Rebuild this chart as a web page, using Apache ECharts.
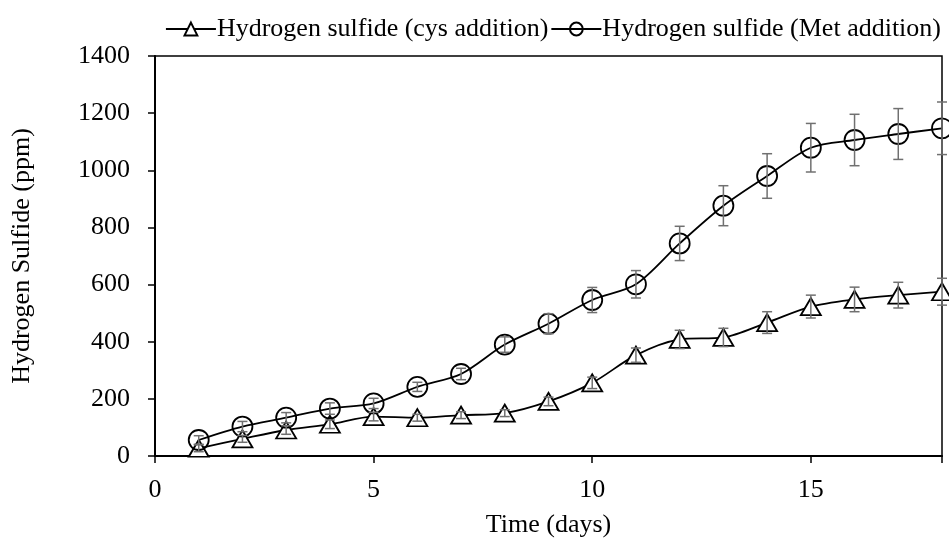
<!DOCTYPE html>
<html>
<head>
<meta charset="utf-8">
<script src="https://cdn.jsdelivr.net/npm/echarts@6/dist/echarts.min.js"></script>
<style>
  html, body { margin: 0; padding: 0; background: #fff; }
  #main { width: 949px; height: 541px; }
</style>
</head>
<body>
<div id="main"></div>
<script>
var days = [1, 2, 3, 4, 5, 6, 7, 8, 9, 10, 11, 12, 13, 14, 15, 16, 17, 18];
var cys = [27, 60, 91, 111, 138, 134, 143, 150, 191, 256, 353, 408, 415, 467, 523, 548, 563, 575];
var cysErr = [12, 12, 15, 15, 15, 12, 12, 12, 15, 20, 25, 32, 32, 38, 40, 43, 45, 47];
var met = [56, 103, 134, 166, 184, 242, 287, 390, 463, 546, 601, 744, 876, 980, 1079, 1106, 1127, 1147];
var metErr = [15, 18, 18, 20, 18, 16, 20, 27, 35, 44, 48, 60, 70, 78, 85, 90, 89, 92];
var xTicks = [0, 5, 10, 15];
var yTicks = [0, 200, 400, 600, 800, 1000, 1200, 1400];

var font = '"Liberation Serif", "Times New Roman", serif';

function pairs(ys) {
    return days.map(function (d, i) { return [d, ys[i]]; });
}

function errData(ys, errs) {
    return days.map(function (d, i) { return [d, ys[i] - errs[i], ys[i] + errs[i]]; });
}

// error bars drawn through the axis scales
function renderErr(params, api) {
    var lo = api.coord([api.value(0), api.value(1)]);
    var hi = api.coord([api.value(0), api.value(2)]);
    var w = 5;
    var st = { stroke: '#707070', lineWidth: 1.5 };
    return {
        type: 'group',
        children: [
            { type: 'line', shape: { x1: lo[0], y1: lo[1], x2: hi[0], y2: hi[1] }, style: st },
            { type: 'line', shape: { x1: lo[0] - w, y1: lo[1], x2: lo[0] + w, y2: lo[1] }, style: st },
            { type: 'line', shape: { x1: hi[0] - w, y1: hi[1], x2: hi[0] + w, y2: hi[1] }, style: st }
        ]
    };
}

var option = {
    animation: false,
    backgroundColor: '#fff',
    textStyle: { fontFamily: font },
    legend: {
        top: 11,
        right: 3,
        itemWidth: 50,
        itemHeight: 16,
        itemGap: 2,
        textStyle: { fontFamily: font, fontSize: 26, color: '#000', padding: [0, 0, 0, -4] },
        data: ['Hydrogen sulfide (cys addition)', 'Hydrogen sulfide (Met addition)']
    },
    grid: {
        left: 155,
        right: 7,
        top: 56,
        bottom: 85,
        outerBoundsMode: 'none',
        containLabel: false,
        show: true,
        borderColor: '#000',
        borderWidth: 1.5
    },
    xAxis: {
        type: 'value',
        min: 0,
        max: 18,
        interval: 5,
        name: 'Time (days)',
        nameLocation: 'middle',
        nameGap: 56,
        nameTextStyle: { fontFamily: font, fontSize: 26, color: '#000' },
        axisLine: { lineStyle: { color: '#000', width: 2 } },
        axisTick: { show: true, length: 7, lineStyle: { color: '#000', width: 1.5 } },
        axisLabel: {
            fontFamily: font, fontSize: 26, color: '#000', margin: 21,
            formatter: function (v) { return xTicks.indexOf(v) >= 0 ? String(v) : ''; }
        },
        splitLine: { show: false }
    },
    yAxis: {
        type: 'value',
        min: 0,
        max: 1400,
        interval: 200,
        name: 'Hydrogen Sulfide (ppm)',
        nameLocation: 'middle',
        nameRotate: 90,
        nameGap: 120,
        nameTextStyle: { fontFamily: font, fontSize: 26, color: '#000' },
        axisLine: { show: true, lineStyle: { color: '#000', width: 2 } },
        axisTick: { show: true, length: 7, lineStyle: { color: '#000', width: 1.5 } },
        axisLabel: {
            fontFamily: font, fontSize: 26, color: '#000', margin: 25,
            formatter: function (v) { return yTicks.indexOf(v) >= 0 ? String(v) : ''; }
        },
        splitLine: { show: false }
    },
    series: [
        {
            name: 'Hydrogen sulfide (cys addition)',
            type: 'line',
            data: pairs(cys),
            smooth: 0.3,
            symbol: 'triangle',
            symbolSize: [20, 17],
            lineStyle: { color: '#000', width: 1.8 },
            itemStyle: { color: '#fff', borderColor: '#000', borderWidth: 1.8 },
            z: 3
        },
        {
            name: 'Hydrogen sulfide (Met addition)',
            type: 'line',
            data: pairs(met),
            smooth: 0.3,
            symbol: 'circle',
            symbolSize: 20,
            lineStyle: { color: '#000', width: 1.8 },
            itemStyle: { color: 'rgba(255,255,255,0)', borderColor: '#000', borderWidth: 1.8 },
            z: 3
        },
        {
            type: 'custom',
            renderItem: renderErr,
            data: errData(cys, cysErr),
            encode: { x: 0, y: [1, 2] },
            silent: true,
            z: 5
        },
        {
            type: 'custom',
            renderItem: renderErr,
            data: errData(met, metErr),
            encode: { x: 0, y: [1, 2] },
            silent: true,
            z: 5
        }
    ]
};

var myChart = echarts.init(document.getElementById('main'));
myChart.setOption(option, true);
</script>
</body>
</html>
